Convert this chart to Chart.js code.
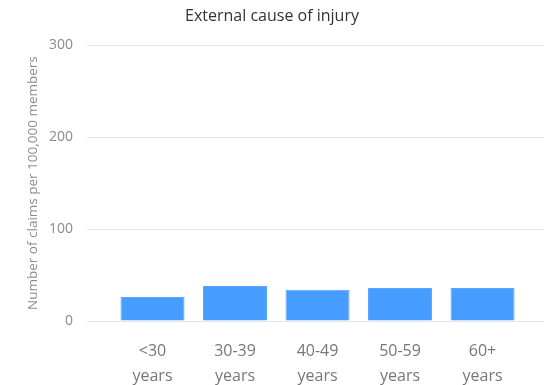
<!DOCTYPE html>
<html>
<head>
<meta charset="utf-8">
<script src="https://cdn.jsdelivr.net/npm/chart.js@4/dist/chart.umd.min.js"></script>
<style>
  html, body { margin: 0; padding: 0; background: #fff; }
  #wrap { width: 544px; height: 385px; position: relative; }
</style>
</head>
<body>
<div id="wrap"><canvas id="myChart"></canvas></div>
<script>
const categories = [['<30', 'years'], ['30-39', 'years'], ['40-49', 'years'], ['50-59', 'years'], ['60+', 'years']];
const claims = [26, 38, 34, 36, 36];
const yTicks = [0, 100, 200, 300];

const ctx = document.getElementById('myChart');

new Chart(ctx, {
  type: 'bar',
  data: {
    datasets: [{
      label: 'Claims',
      data: claims.map((v, i) => ({ x: i, y: v })),
      backgroundColor: '#469cff',
      borderColor: '#5aa7ff',
      borderWidth: 1,
      barPercentage: 1,
      categoryPercentage: 0.776
    }]
  },
  options: {
    responsive: true,
    maintainAspectRatio: false,
    animation: false,
    layout: { padding: { left: 0, right: 0, top: 0, bottom: 0 } },
    plugins: {
      legend: { display: false },
      tooltip: { enabled: false },
      title: {
        display: true,
        text: 'External cause of injury',
        color: '#333',
        font: { family: 'Open Sans', size: 16, weight: 'normal' },
        padding: { top: 7, bottom: 19 }
      }
    },
    scales: {
      x: {
        type: 'linear',
        offset: false,
        min: -0.794,
        max: 4.745,
        afterBuildTicks: s => { s.ticks = categories.map((c, i) => ({ value: i })); },
        afterFit: s => { s.height = 64; },
        grid: { display: false, offset: false },
        border: { display: false },
        ticks: {
          callback: v => categories[v],
          color: '#777',
          padding: 10,
          maxRotation: 0,
          autoSkip: false,
          font: { family: 'Open Sans', size: 16, lineHeight: 1.56 }
        }
      },
      y: {
        min: 0,
        max: 300,
        afterBuildTicks: s => { s.ticks = yTicks.map(v => ({ value: v })); },
        afterFit: s => { s.width = 87; },
        grid: { color: '#e6e6e6', drawTicks: false },
        border: { display: false },
        ticks: {
          color: '#8c8c8c',
          padding: 14,
          font: { family: 'Open Sans', size: 14 }
        },
        title: {
          display: true,
          text: 'Number of claims per 100,000 members',
          color: '#8c8c8c',
          font: { family: 'Open Sans', size: 13.5 },
          padding: { top: 25, bottom: 0 }
        }
      }
    }
  }
});
</script>
</body>
</html>
